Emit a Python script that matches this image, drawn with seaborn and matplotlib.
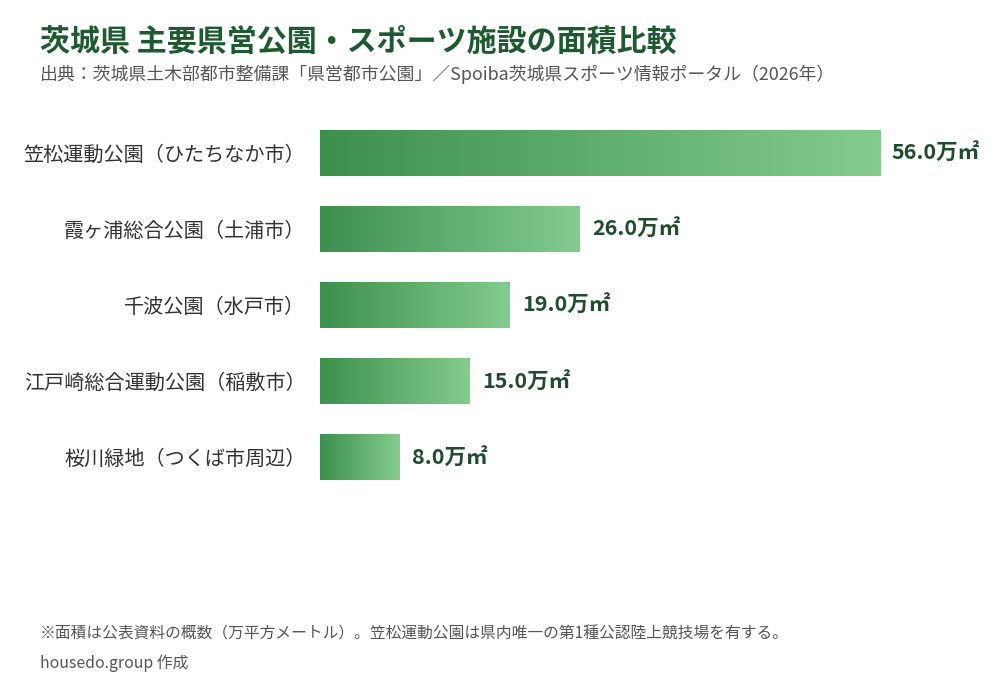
import numpy as np
import pandas as pd
import seaborn as sns
import matplotlib.pyplot as plt
from matplotlib.colors import LinearSegmentedColormap

facilities = ['笠松運動公園（ひたちなか市）', '霞ヶ浦総合公園（土浦市）', '千波公園（水戸市）',
              '江戸崎総合運動公園（稲敷市）', '桜川緑地（つくば市周辺）']
areas = [56.0, 26.0, 19.0, 15.0, 8.0]

title = '茨城県 主要県営公園・スポーツ施設の面積比較'
subtitle = '出典：茨城県土木部都市整備課「県営都市公園」／Spoiba茨城県スポーツ情報ポータル（2026年）'
note = '※面積は公表資料の概数（万平方メートル）。笠松運動公園は県内唯一の第1種公認陸上競技場を有する。'
credit = 'housedo.group 作成'

sns.set_theme(style='white')
plt.rcParams['font.family'] = ['Noto Sans CJK JP', 'DejaVu Sans']

df = pd.DataFrame({'facility': facilities, 'area': areas})

fig = plt.figure(figsize=(10, 7), dpi=100)
ax = fig.add_axes([0.32, 0.293, 0.667, 0.543])

sns.barplot(data=df, x='area', y='facility', color='#5aa866', width=0.6, ax=ax)

# gradient fill for each bar
cmap = LinearSegmentedColormap.from_list('grn', ['#3e904f', '#83cc8d'])
grad = np.linspace(0, 1, 256).reshape(1, -1)
for p in ax.patches:
    x0, y0 = p.get_x(), p.get_y()
    w, h = p.get_width(), p.get_height()
    im = ax.imshow(grad, cmap=cmap, aspect='auto', extent=[x0, x0 + w, y0 + h, y0],
                   zorder=p.get_zorder() + 0.1)
    im.set_clip_path(p)
    p.set_edgecolor('none')

for i, v in enumerate(areas):
    ax.annotate(f'{v:.1f}万㎡', xy=(v, i), xytext=(8.5, 0), textcoords='offset points',
                va='center', ha='left', fontsize=15.5, fontweight='bold', color='#1f4d2c')

ax.set_xlim(0, 66.7)
ax.set_ylim(4.5, -0.5)
ax.set_xlabel('')
ax.set_ylabel('')
ax.set_xticks([])
ax.tick_params(axis='y', length=0, pad=10.5, labelsize=14.5, labelcolor='#333333')
sns.despine(ax=ax, left=True, bottom=True)

fig.text(0.04, 0.928, title, fontsize=21.6, fontweight='bold', color='#1e5a30', va='baseline')
fig.text(0.04, 0.894, subtitle, fontsize=12.9, color='#555555', va='center')
fig.text(0.04, 0.094, note, fontsize=11.3, color='#555555', va='center')
fig.text(0.04, 0.052, credit, fontsize=11.4, color='#555555', va='center')

fig.savefig('out.png', dpi=100, facecolor='white')
